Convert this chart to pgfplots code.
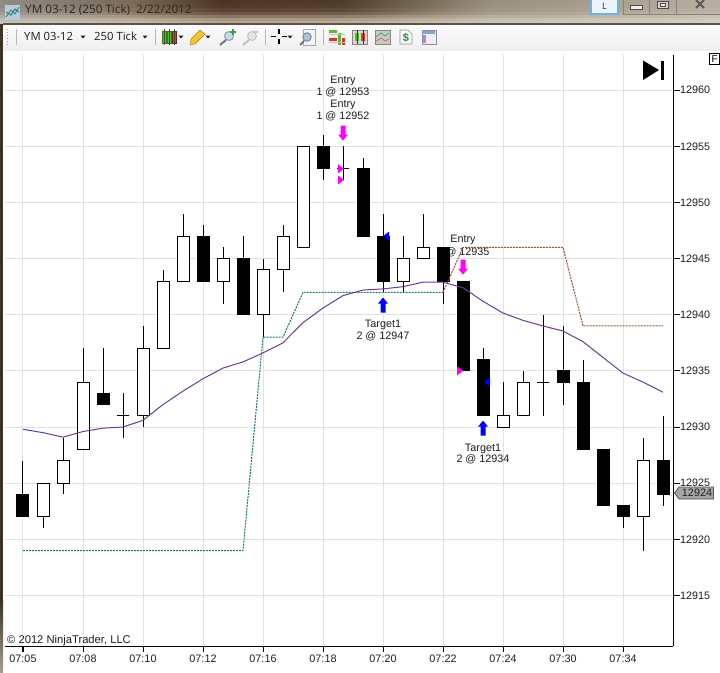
\documentclass[border=0pt]{standalone}
\usepackage{fontspec}
\setmainfont{Liberation Sans}
\newfontfamily\chromefont{Open Sans}
\usepackage{pgfplots}
\pgfplotsset{compat=1.18}
\definecolor{gridc}{HTML}{E2E2E2}
\definecolor{ema}{HTML}{6A3D8F}
\definecolor{teald}{HTML}{17787A}
\definecolor{brownd}{HTML}{9A5234}
\definecolor{txt}{HTML}{1E1E1E}
\definecolor{mag}{RGB}{255,0,255}
\definecolor{blu}{RGB}{0,0,255}
\newcommand{\hx}[1]{\definecolor{#1}{HTML}{#1}}
\hx{C9C5BD}\hx{8F8C85}\hx{C6BBA9}\hx{7C6A56}\hx{BBAB94}\hx{4B3625}\hx{C2B29C}\hx{4E3B29}\hx{D0C8BA}\hx{9A8F7E}\hx{D5CFC5}\hx{B7AE9F}
\hx{FBFBFB}\hx{EFEFEF}\hx{5A5448}\hx{3A3428}\hx{A89E8E}\hx{2A2622}\hx{B8CBD8}\hx{2E9E4A}\hx{3A6FB0}\hx{6FB2DC}\hx{EAF4FA}\hx{333333}
\hx{8A8272}\hx{4A4A4A}\hx{D8D4CC}\hx{5A5A5A}\hx{1E1E1E}\hx{222222}\hx{B8B8B8}\hx{A0A0A0}\hx{4FC21E}\hx{3A7A18}\hx{D8402E}\hx{7A2018}
\hx{444444}\hx{F3C42C}\hx{A8832A}\hx{8FA0B0}\hx{C8D8EC}\hx{777777}\hx{2DA63A}\hx{C4C4C4}\hx{E4E4E4}\hx{C0C0C0}\hx{A0A8B0}\hx{F4F4F4}
\hx{7C8CA0}\hx{A8C4E4}\hx{666666}\hx{5DB82E}\hx{D8342A}\hx{888888}\hx{D8D8D0}\hx{C8C8C4}\hx{3FA05A}\hx{C8604A}\hx{909090}\hx{F8F8F8}
\hx{2E8B3A}\hx{8A8FB0}\hx{F0ECF4}\hx{7FA8CC}\hx{B088D8}\hx{A6A6A6}\hx{555555}
\newcommand{\lab}{\fontsize{10.8}{12}\selectfont}
% candle: index, body top, body bottom, high, low, fill
\newcommand{\candle}[6]{%
  \pgfmathsetmacro{\cl}{#1-0.3}\pgfmathsetmacro{\cr}{#1+0.3}%
  \edef\temp{\noexpand\addplot[forget plot, black, line width=1pt] coordinates {(#1,#5)(#1,#4)};
  \noexpand\addplot[forget plot, draw=black, fill=#6, line width=1pt] coordinates {(\cl,#2)(\cr,#2)(\cr,#3)(\cl,#3)} -- cycle;}\temp}
\pgfdeclareplotmark{dnarrow}{%
  \pgfpathmoveto{\pgfqpoint{-2.5pt}{7.5pt}}\pgfpathlineto{\pgfqpoint{2.5pt}{7.5pt}}%
  \pgfpathlineto{\pgfqpoint{2.5pt}{-1.5pt}}\pgfpathlineto{\pgfqpoint{5pt}{-1.5pt}}%
  \pgfpathlineto{\pgfqpoint{0pt}{-7.5pt}}\pgfpathlineto{\pgfqpoint{-5pt}{-1.5pt}}%
  \pgfpathlineto{\pgfqpoint{-2.5pt}{-1.5pt}}\pgfpathclose\pgfusepathqfill}
\pgfdeclareplotmark{uparrow}{%
  \pgfpathmoveto{\pgfqpoint{-2.5pt}{-7.5pt}}\pgfpathlineto{\pgfqpoint{2.5pt}{-7.5pt}}%
  \pgfpathlineto{\pgfqpoint{2.5pt}{1.5pt}}\pgfpathlineto{\pgfqpoint{5pt}{1.5pt}}%
  \pgfpathlineto{\pgfqpoint{0pt}{7.5pt}}\pgfpathlineto{\pgfqpoint{-5pt}{1.5pt}}%
  \pgfpathlineto{\pgfqpoint{-2.5pt}{1.5pt}}\pgfpathclose\pgfusepathqfill}
\pgfdeclareplotmark{rtri}{%
  \pgfpathmoveto{\pgfqpoint{-3pt}{4.5pt}}\pgfpathlineto{\pgfqpoint{3pt}{0pt}}%
  \pgfpathlineto{\pgfqpoint{-3pt}{-4.5pt}}\pgfpathclose\pgfusepathqfill}
\pgfdeclareplotmark{ltri}{%
  \pgfpathmoveto{\pgfqpoint{3pt}{4.5pt}}\pgfpathlineto{\pgfqpoint{-3pt}{0pt}}%
  \pgfpathlineto{\pgfqpoint{3pt}{-4.5pt}}\pgfpathclose\pgfusepathqfill}
\begin{document}
\begin{tikzpicture}
\useasboundingbox (0pt,-672pt) rectangle (720pt,0pt);
% ---- window chrome, in pixel coordinates from the top left
\begin{scope}[x=1pt,y=-1pt]
\fill[white] (0,0) rectangle (720,672);
\foreach \ya/\yb/\m in {0/4/0,4/8/4,8/12/12,12/15/28,15/18/55,18/21/80,21/24/95}{
  \shade[left color=C9C5BD!\m!8F8C85, right color=C6BBA9!\m!7C6A56] (0,\ya) rectangle (130,\yb);
  \shade[left color=C6BBA9!\m!7C6A56, right color=BBAB94!\m!4B3625] (130,\ya) rectangle (220,\yb);
  \shade[left color=BBAB94!\m!4B3625, right color=C2B29C!\m!4E3B29] (220,\ya) rectangle (340,\yb);
  \shade[left color=C2B29C!\m!4E3B29, right color=D0C8BA!\m!9A8F7E] (340,\ya) rectangle (490,\yb);
  \shade[left color=D0C8BA!\m!9A8F7E, right color=D5CFC5!\m!B7AE9F] (490,\ya) rectangle (720,\yb);
}
\shade[top color=FBFBFB, bottom color=EFEFEF] (3,24) rectangle (720,50);
\fill[5A5448] (3,23) rectangle (720,24.5);
\fill[3A3428] (0,24) rectangle (3,600);
\shade[top color=3A3428, bottom color=A89E8E] (0,600) rectangle (3,672);
\node[font=\chromefont\fontsize{11.7}{13}\selectfont, text=2A2622, anchor=west, inner sep=0pt] at (25,10) {YM 03-12 (250 Tick)\ \ 2/22/2012};
\fill[B8CBD8] (5,5) rectangle (20,20);
\draw[2E9E4A, line width=1pt] (6,17) -- (11,10) -- (15,14) -- (19,7);
\draw[3A6FB0, line width=1pt] (6,12) -- (11,15) -- (15,9) -- (19,12);
% window buttons
\draw[6FB2DC, fill=EAF4FA, line width=1.2pt] (591,-2) rectangle (618,14);
\node[font=\chromefont\fontsize{9}{10}\selectfont, text=333333] at (604.5,6) {L};
\draw[8A8272, line width=.6pt] (623,-1) -- (623,14) -- (720,14);
\draw[8A8272, line width=.6pt] (649,-1) -- (649,14) (676,-1) -- (676,14);
\draw[4A4A4A, fill=EFEFEF, line width=.8pt] (630,5) rectangle (642,9);
\draw[4A4A4A, fill=D8D4CC, line width=.8pt] (657,1) rectangle (668,8);
\draw[4A4A4A, fill=EFEFEF, line width=.5pt] (660,3) rectangle (665,6);
\draw[5A5A5A, line width=2pt] (696,0) -- (704,8) (704,0) -- (696,8);
% toolbar text
\node[font=\chromefont\fontsize{11.3}{13}\selectfont, text=1E1E1E, anchor=west, inner sep=0pt] at (24,36.5) {YM 03-12};
\node[font=\chromefont\fontsize{11.3}{13}\selectfont, text=1E1E1E, anchor=west, inner sep=0pt] at (94,36.5) {250 Tick};
\foreach \x in {83,145,181,208,290}{ \fill[222222] (\x-2.5,35.5) -- (\x+2.5,35.5) -- (\x,38.5) -- cycle; }
\foreach \x in {16,155,265,323}{ \draw[B8B8B8, line width=.8pt] (\x,29) -- (\x,45); }
\foreach \y in {29,32,35,38,41,44}{ \fill[A0A0A0] (7,\y) rectangle (8.4,\y+1.4); }
% candles icon
\filldraw[fill=4FC21E, draw=3A7A18, line width=.4pt] (162,31) rectangle (166,43);
\filldraw[fill=4FC21E, draw=3A7A18, line width=.4pt] (167,31) rectangle (171,43);
\filldraw[fill=D8402E, draw=7A2018, line width=.4pt] (172,31) rectangle (176,43);
\draw[444444, line width=.6pt] (164,29) -- (164,45) (169,29) -- (169,45) (174,29) -- (174,45);
% pencil
\filldraw[fill=F3C42C, draw=A8832A, line width=.4pt] (200,30) -- (205,34) -- (195,44) -- (190,45) -- (191,39) -- cycle;
% zooms
\draw[8FA0B0, fill=C8D8EC, line width=1pt] (229,36) circle (4.5);
\draw[777777, line width=2pt] (226,40) -- (220,45);
\draw[2DA63A, line width=1.6pt] (230,32) -- (236,32) (233,29) -- (233,35);
\draw[C4C4C4, fill=E4E4E4, line width=1pt] (252,36) circle (4.5);
\draw[C0C0C0, line width=2pt] (249,40) -- (243,45);
\draw[C4C4C4, line width=1.4pt] (253,32) -- (258,32);
% crosshair
\draw[black, line width=1.6pt] (271,36.5) -- (276,36.5) (282,36.5) -- (287,36.5) (279,29) -- (279,34) (279,39) -- (279,44);
% zoom box
\draw[A0A8B0, fill=F4F4F4, line width=.6pt] (303,29) rectangle (315,45);
\draw[7C8CA0, fill=A8C4E4, line width=1pt] (307,37) circle (4.2);
\draw[666666, line width=1.6pt] (304,41) -- (300,45);
% bars icon
\fill[5DB82E] (329,30) rectangle (337,33);
\fill[5DB82E] (338,33) rectangle (341,45);
\fill[D8342A] (329,38) rectangle (337,41);
\fill[D8342A] (342,38) rectangle (345,45);
\draw[C0C0C0, line width=.4pt] (329,34) -- (345,34) (329,42) -- (345,42);
% candle box icon
\draw[888888, fill=D8D8D0, line width=.6pt] (352,30) rectangle (367,44);
\fill[4FC21E] (355,33) rectangle (359,41);
\fill[D8402E] (361,33) rectangle (365,41);
\draw[333333, line width=.6pt] (357,30) -- (357,44) (363,30) -- (363,44);
% line box icon
\draw[888888, fill=C8C8C4, line width=.6pt] (375,30) rectangle (390,44);
\draw[3FA05A, line width=.6pt] (376,37) -- (381,33) -- (385,36) -- (389,33);
\draw[C8604A, line width=.6pt] (376,41) -- (381,38) -- (385,41) -- (389,39);
% dollar doc
\draw[909090, fill=F8F8F8, line width=.6pt] (400,30) -- (408,30) -- (412,34) -- (412,44) -- (400,44) -- cycle;
\node[font=\fontsize{11}{12}\bfseries\selectfont, text=2E8B3A, inner sep=0pt] at (406,37.5) {\$};
% table icon
\draw[8A8FB0, fill=F0ECF4, line width=.8pt] (422,30) rectangle (436,44);
\fill[7FA8CC] (423,31) rectangle (435,34);
\fill[B088D8] (423,35) rectangle (426,43);
% F box
\filldraw[fill=white, draw=black, line width=.8pt] (709.5,53.5) rectangle (719.5,64);
\node[font=\fontsize{10}{11}\selectfont, inner sep=0pt] at (714.7,58.8) {F};
\end{scope}
\begin{axis}[
  at={(5pt,-646pt)}, anchor=south west,
  scale only axis, width=668pt, height=591pt,
  xmin=-0.9, xmax=32.5, ymin=12910.5, ymax=12963.13,
  axis x line*=bottom, axis y line*=right,
  axis line style={black, line width=1pt, -},
  scaled y ticks=false, scaled x ticks=false,
  xtick={0,3,6,9,12,15,18,21,24,27,30},
  xticklabels={07:05,07:08,07:10,07:12,07:16,07:18,07:20,07:22,07:24,07:30,07:34},
  ytick={12915,12920,12925,12930,12935,12940,12945,12950,12955,12960},
  yticklabels={12915,12920,12925,12930,12935,12940,12945,12950,12955,12960},
  grid=major, major grid style={gridc, line width=1pt},
  tick align=outside, major tick length=6pt,
  tick style={draw=black, line width=1pt},
  tick label style={font=\lab, text=txt, inner sep=0pt},
  x tick label style={yshift=-3pt},
  y tick label style={xshift=1pt},
]
% order texts, drawn below the candles
\node[font=\lab, text=txt, yshift=-1.5pt] at (axis cs:16,12960.99) {Entry};
\node[font=\lab, text=txt, yshift=-1.5pt] at (axis cs:16,12959.92) {1 @ 12953};
\node[font=\lab, text=txt, yshift=-1.5pt] at (axis cs:16,12958.85) {Entry};
\node[font=\lab, text=txt, yshift=-1.5pt] at (axis cs:16,12957.78) {1 @ 12952};
\node[font=\lab, text=txt, yshift=-1.5pt] at (axis cs:22,12946.83) {Entry};
\node[font=\lab, text=txt, yshift=-1.5pt] at (axis cs:22,12945.67) {1 @ 12935};
\node[font=\lab, text=txt, yshift=-1.5pt] at (axis cs:18,12939.26) {Target1};
\node[font=\lab, text=txt, yshift=-1.5pt] at (axis cs:18,12938.19) {2 @ 12947};
\node[font=\lab, text=txt, yshift=-1.5pt] at (axis cs:23,12928.22) {Target1};
\node[font=\lab, text=txt, yshift=-1.5pt] at (axis cs:23,12927.24) {2 @ 12934};
\node[font=\fontsize{11.2}{13}\selectfont, text=txt, anchor=west, inner sep=0pt] at (axis cs:-0.8,12911.0) {© 2012 NinjaTrader, LLC};
% candles: index, top, bottom, high, low
\candle{0}{12924}{12922}{12927}{12922}{black}
\candle{1}{12925}{12922}{12925}{12921}{white}
\candle{2}{12927}{12925}{12929}{12924}{white}
\candle{3}{12934}{12928}{12937}{12928}{white}
\candle{4}{12933}{12932}{12937}{12932}{black}
\candle{5}{12931}{12931}{12933}{12929}{white}
\candle{6}{12937}{12931}{12939}{12930}{white}
\candle{7}{12943}{12937}{12944}{12937}{white}
\candle{8}{12947}{12943}{12949}{12943}{white}
\candle{9}{12947}{12943}{12948}{12943}{black}
\candle{10}{12945}{12943}{12946}{12941}{white}
\candle{11}{12945}{12940}{12947}{12940}{black}
\candle{12}{12944}{12940}{12945}{12938}{white}
\candle{13}{12947}{12944}{12948}{12942}{white}
\candle{14}{12955}{12946}{12955}{12946}{white}
\candle{15}{12955}{12953}{12956}{12952}{black}
\candle{16}{12953}{12953}{12955}{12952}{white}
\candle{17}{12953}{12947}{12954}{12947}{black}
\candle{18}{12947}{12943}{12949}{12942}{black}
\candle{19}{12945}{12943}{12947}{12942}{white}
\candle{20}{12946}{12945}{12949}{12945}{white}
\candle{21}{12946}{12943}{12946}{12941}{black}
\candle{22}{12943}{12935}{12943}{12935}{black}
\candle{23}{12936}{12931}{12937}{12931}{black}
\candle{24}{12931}{12930}{12934}{12930}{white}
\candle{25}{12934}{12931}{12935}{12931}{white}
\candle{26}{12934}{12934}{12940}{12931}{white}
\candle{27}{12935}{12934}{12939}{12932}{black}
\candle{28}{12934}{12928}{12936}{12928}{black}
\candle{29}{12928}{12923}{12928}{12923}{black}
\candle{30}{12923}{12922}{12923}{12921}{black}
\candle{31}{12927}{12922}{12929}{12919}{white}
\candle{32}{12927}{12924}{12931}{12923}{black}
% stop lines
\addplot[forget plot, teald, line width=1pt, dash pattern=on 2pt off 1pt] coordinates {
 (0,12919)(11,12919)(12,12938)(13,12938)(14,12942)(21,12942)};
\addplot[forget plot, brownd, line width=1pt, dash pattern=on 2pt off 1pt] coordinates {
 (21,12942)(22,12946)(27,12946)(28,12939)(32,12939)};
% moving average
\addplot[forget plot, ema, line width=1pt] coordinates {
 (0,12929.8)(1,12929.5)(2,12929.1)(3,12929.6)(4,12929.9)(5,12930)(6,12930.6)(7,12932)(8,12933.2)
 (9,12934.3)(10,12935.25)(11,12935.8)(12,12936.6)(13,12937.5)(14,12939.3)(15,12940.6)(16,12941.7)
 (17,12942.2)(18,12942.3)(19,12942.5)(20,12942.9)(21,12942.9)(22,12942.4)(23,12941.2)(24,12940.15)
 (25,12939.5)(26,12939)(27,12938.55)(28,12937.6)(29,12936.2)(30,12934.8)(31,12934)(32,12933.1)};
% executions
\addplot[forget plot, only marks, mark=dnarrow, color=mag] coordinates {(16,12956.18)(22,12944.25)};
\addplot[forget plot, only marks, mark=uparrow, color=blu] coordinates {(18,12940.86)(23,12929.9)};
\addplot[forget plot, only marks, mark=rtri, color=mag] coordinates {(15.9,12953)(15.9,12952)(21.85,12935)};
\addplot[forget plot, only marks, mark=ltri, color=blu] coordinates {(18.15,12947)(23.2,12934)};
\end{axis}
\begin{scope}[x=1pt,y=-1pt]
% tick strokes along the axes
\foreach \x in {23,83,143,203,263,323,383,443,503,563,623}{ \draw[black, line width=1pt] (\x,646) -- (\x,652); }
\foreach \y in {90,146.2,202.3,258.5,314.7,370.9,427,483.2,539.4,595.5}{ \draw[black, line width=1pt] (673,\y) -- (680,\y); }
% jump-to-end button and last price tag
\fill[black] (643,60.5) -- (659,70) -- (643,80) -- cycle;
\fill[black] (661,60.5) rectangle (664,80);
\filldraw[fill=A6A6A6, draw=555555, line width=.8pt] (674.5,493) -- (679,487) -- (713.5,487) -- (713.5,499) -- (679,499) -- cycle;
\node[font=\lab, text=txt, inner sep=0pt] at (697,493) {12924};
\end{scope}
\end{tikzpicture}
\end{document}
